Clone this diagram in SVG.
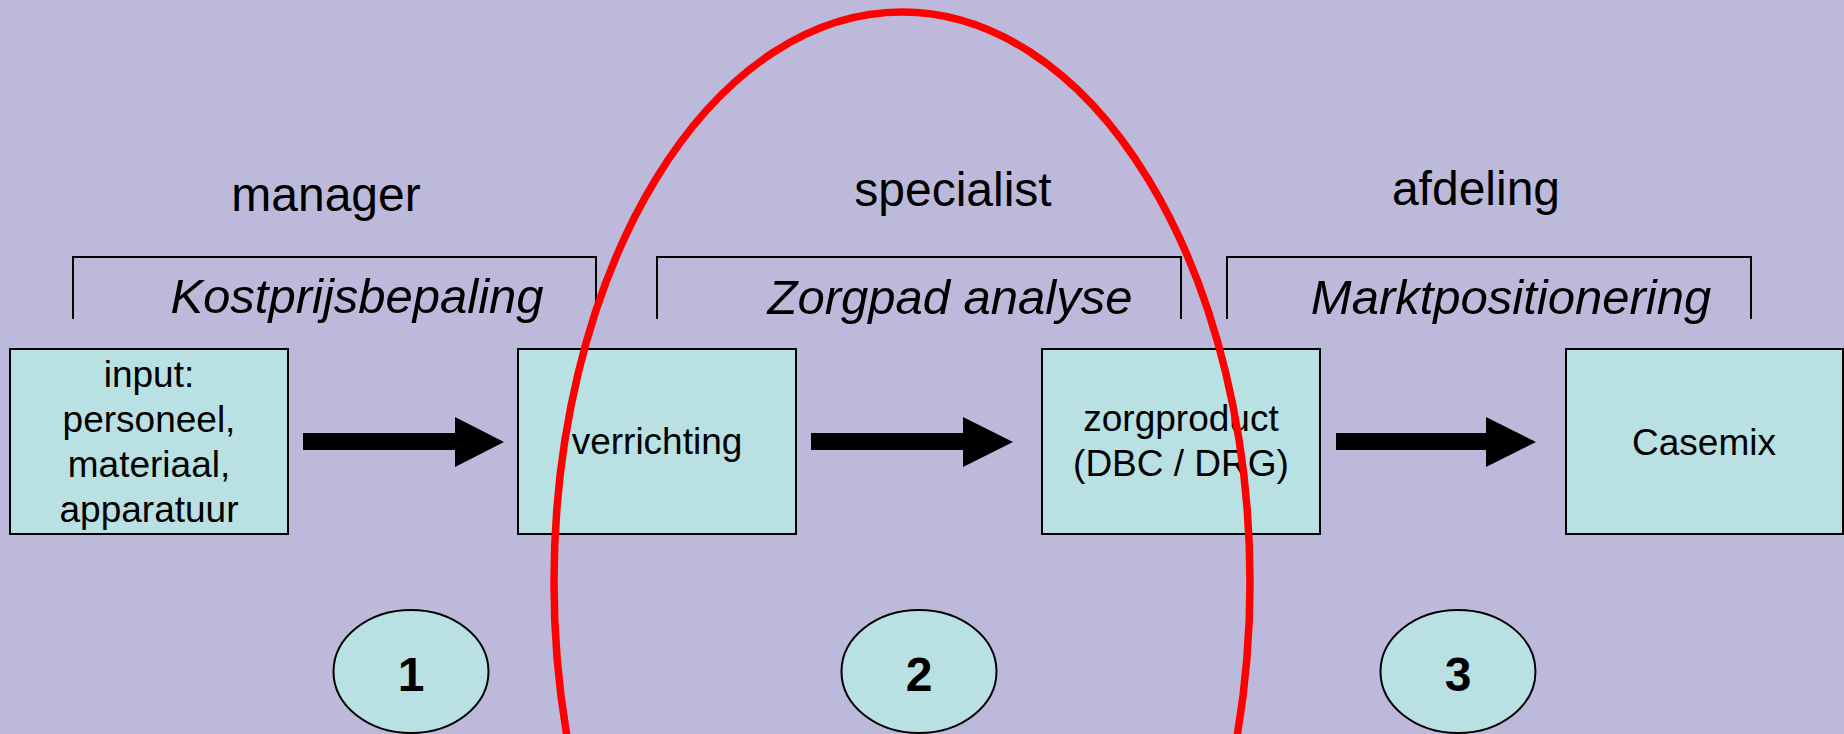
<svg xmlns="http://www.w3.org/2000/svg" width="1844" height="734" viewBox="0 0 1844 734">
<defs>
<style>
.bg{fill:#BDB9DB}
.box{fill:#B9E0E3;stroke:#000;stroke-width:2}
.num{fill:#B9E0E3;stroke:#000;stroke-width:2}
.br{fill:none;stroke:#000;stroke-width:2}
.t{font-family:"Liberation Sans",Arial,sans-serif;fill:#000;text-anchor:middle}
.lbl{font-size:37px}
.head{font-size:48px}
.it{font-size:49px;font-style:italic}
.n{font-size:48px;font-weight:bold}
.arr{fill:#000}
</style>
</defs>
<rect class="bg" x="0" y="0" width="1844" height="734"/>

<g id="labels">
<text class="t head" x="326" y="211">manager</text>
<text class="t head" x="953" y="206">specialist</text>
<text class="t head" x="1476" y="205">afdeling</text>
</g>

<g id="bracket-kostprijs">
<polyline class="br" points="73,319 73,257 596,257 596,319"/>
<text class="t it" x="357" y="313">Kostprijsbepaling</text>
</g>
<g id="bracket-zorgpad">
<polyline class="br" points="657,319 657,257 1181,257 1181,319"/>
<text class="t it" x="950" y="314">Zorgpad analyse</text>
</g>
<g id="bracket-markt">
<polyline class="br" points="1227,319 1227,257 1751,257 1751,319"/>
<text class="t it" x="1511" y="314">Marktpositionering</text>
</g>

<g id="node-input">
<rect class="box" x="10" y="349" width="278" height="185"/>
<text class="t lbl" x="149" y="387">input:</text>
<text class="t lbl" x="149" y="432">personeel,</text>
<text class="t lbl" x="149" y="477">materiaal,</text>
<text class="t lbl" x="149" y="522">apparatuur</text>
</g>
<g id="node-verrichting">
<rect class="box" x="518" y="349" width="278" height="185"/>
<text class="t lbl" x="657" y="454">verrichting</text>
</g>
<g id="node-zorgproduct">
<rect class="box" x="1042" y="349" width="278" height="185"/>
<text class="t lbl" x="1181" y="431">zorgproduct</text>
<text class="t lbl" x="1181" y="476">(DBC / DRG)</text>
</g>
<g id="node-casemix">
<rect class="box" x="1566" y="349" width="277" height="185"/>
<text class="t lbl" x="1704" y="455">Casemix</text>
</g>

<g id="connectors">
<polygon class="arr" points="303,433 455,433 455,417 504,442 455,467 455,450 303,450"/>
<polygon class="arr" points="811,433 963,433 963,417 1013,442 963,467 963,450 811,450"/>
<polygon class="arr" points="1336,433 1486,433 1486,417 1536,442 1486,467 1486,450 1336,450"/>
</g>

<g id="step-1">
<ellipse class="num" cx="411" cy="671.5" rx="77.5" ry="61.5"/>
<text class="t n" x="411" y="691">1</text>
</g>
<g id="step-2">
<ellipse class="num" cx="919" cy="671.5" rx="77.5" ry="61.5"/>
<text class="t n" x="919" y="691">2</text>
</g>
<g id="step-3">
<ellipse class="num" cx="1458" cy="671.5" rx="77.5" ry="61.5"/>
<text class="t n" x="1458" y="691">3</text>
</g>

<g id="highlight">
<ellipse cx="902" cy="582" rx="348" ry="570" fill="none" stroke="#FF0000" stroke-width="7.5"/>
</g>
</svg>
